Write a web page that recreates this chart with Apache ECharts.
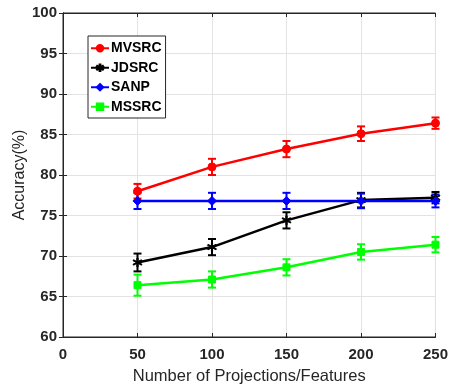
<!DOCTYPE html>
<html>
<head>
<meta charset="utf-8">
<script src="https://cdn.jsdelivr.net/npm/echarts@6/dist/echarts.min.js"></script>
<style>
html,body{margin:0;padding:0;background:#fff;}
#chart{width:451px;height:390px;}
</style>
</head>
<body>
<div id="chart"></div>
<script>
// Number of projections / features on the x axis
const features = [50, 100, 150, 200, 250];
const xTicks = [0, 50, 100, 150, 200, 250];
const yTicks = [60, 65, 70, 75, 80, 85, 90, 95, 100];

// Mean accuracy (%) per method
const mvsrcMean = [78.0, 81.0, 83.2, 85.1, 86.4];
const jdsrcMean = [69.2, 71.1, 74.4, 76.9, 77.2];
const sanpMean  = [76.8, 76.8, 76.8, 76.8, 76.8];
const mssrcMean = [66.4, 67.1, 68.6, 70.5, 71.4];

// Half-length of each error bar (%)
const mvsrcErr = [0.9, 1.0, 1.0, 0.9, 0.7];
const jdsrcErr = [1.1, 1.0, 1.0, 0.9, 0.7];
const sanpErr  = [1.0, 1.0, 1.0, 0.9, 0.8];
const mssrcErr = [1.3, 1.0, 1.0, 0.95, 0.95];

// Six-armed asterisk built from three filled bars
const asterisk = 'path://M-1.2,-10L1.2,-10L1.2,10L-1.2,10Z' +
  'M-9.26,-3.96L-8.06,-6.04L9.26,3.96L8.06,6.04Z' +
  'M-8.06,6.04L-9.26,3.96L8.06,-6.04L9.26,-3.96Z';

const methods = [
  { name: 'MVSRC', mean: mvsrcMean, err: mvsrcErr, color: '#ff0000', symbol: 'circle', size: 8 },
  { name: 'JDSRC', mean: jdsrcMean, err: jdsrcErr, color: '#000000', symbol: asterisk, size: 9 },
  { name: 'SANP', mean: sanpMean, err: sanpErr, color: '#0000ff', symbol: 'diamond', size: 9 },
  { name: 'MSSRC', mean: mssrcMean, err: mssrcErr, color: '#00ff00', symbol: 'rect', size: 7 }
];

const chart = echarts.init(document.getElementById('chart'), null, { renderer: 'canvas' });

const fontFamily = 'Liberation Sans, Arial, sans-serif';
const tickFont = { fontFamily: fontFamily, fontWeight: 'bold', fontSize: 15, color: '#262626' };
const axisLineStyle = { color: '#262626', width: 1 };

function errorBarSeries(m) {
  return {
    type: 'custom',
    name: m.name + ' std',
    silent: true,
    z: 3,
    data: features.map((x, i) => [x, m.mean[i] - m.err[i], m.mean[i] + m.err[i]]),
    renderItem: function (params, api) {
      const lo = api.coord([api.value(0), api.value(1)]);
      const hi = api.coord([api.value(0), api.value(2)]);
      const w = 4;
      const style = { stroke: m.color, lineWidth: 2, fill: null };
      return {
        type: 'group',
        children: [
          { type: 'line', shape: { x1: lo[0], y1: lo[1], x2: hi[0], y2: hi[1] }, style: style },
          { type: 'line', shape: { x1: lo[0] - w, y1: lo[1], x2: lo[0] + w, y2: lo[1] }, style: style },
          { type: 'line', shape: { x1: hi[0] - w, y1: hi[1], x2: hi[0] + w, y2: hi[1] }, style: style }
        ]
      };
    }
  };
}

function lineSeries(m) {
  return {
    type: 'line',
    name: m.name,
    data: features.map((x, i) => [x, m.mean[i]]),
    symbol: m.symbol,
    symbolSize: m.size,
    showAllSymbol: true,
    z: 4,
    color: m.color,
    lineStyle: { color: m.color, width: 2.5 },
    itemStyle: { color: m.color, borderColor: m.color, borderWidth: 1 },
    emphasis: { disabled: true }
  };
}

const series = [];
methods.forEach(m => { series.push(lineSeries(m)); });
methods.forEach(m => { series.push(errorBarSeries(m)); });

chart.setOption({
  animation: false,
  backgroundColor: '#ffffff',
  grid: { left: 63, right: 15, top: 13, bottom: 53, show: true, borderColor: '#262626', borderWidth: 1 },
  legend: {
    data: methods.map(m => m.name),
    orient: 'vertical',
    left: 88,
    top: 36,
    itemWidth: 18,
    itemHeight: 8,
    itemGap: 3,
    padding: [4, 4, 3, 2],
    borderColor: '#262626',
    borderWidth: 1,
    backgroundColor: '#ffffff',
    selectedMode: false,
    textStyle: { fontFamily: fontFamily, fontWeight: 'bold', fontSize: 14, lineHeight: 16.5, color: '#000', padding: [0, 0, 0, -3] }
  },
  xAxis: [{
    type: 'value',
    min: 0, max: 250, interval: 50,
    name: 'Number of Projections/Features',
    nameLocation: 'middle',
    nameGap: 31,
    nameMoveOverlap: false,
    nameTextStyle: { fontFamily: fontFamily, fontSize: 16.5, color: '#262626' },
    axisLine: { show: true, lineStyle: axisLineStyle },
    axisTick: { show: true, inside: true, length: 4, lineStyle: axisLineStyle },
    axisLabel: Object.assign({ margin: 10, formatter: v => xTicks.includes(v) ? String(v) : '' }, tickFont),
    splitLine: { show: true, lineStyle: { color: '#e3e3e3', width: 1 } }
  }, {
    type: 'value', position: 'top', min: 0, max: 250, interval: 50,
    axisLine: { show: true, lineStyle: axisLineStyle },
    axisTick: { show: true, inside: true, length: 4, lineStyle: axisLineStyle },
    axisLabel: { show: false }, splitLine: { show: false }
  }],
  yAxis: [{
    type: 'value',
    min: 60, max: 100, interval: 5,
    name: 'Accuracy(%)',
    nameLocation: 'middle',
    nameGap: 35,
    nameMoveOverlap: false,
    nameTextStyle: { fontFamily: fontFamily, fontSize: 16, color: '#262626' },
    axisLine: { show: true, lineStyle: axisLineStyle },
    axisTick: { show: true, inside: true, length: 4, lineStyle: axisLineStyle },
    axisLabel: Object.assign({ margin: 6, formatter: v => yTicks.includes(v) ? String(v) : '' }, tickFont),
    splitLine: { show: true, lineStyle: { color: '#e3e3e3', width: 1 } }
  }, {
    type: 'value', position: 'right', min: 60, max: 100, interval: 5,
    axisLine: { show: true, lineStyle: axisLineStyle },
    axisTick: { show: true, inside: true, length: 4, lineStyle: axisLineStyle },
    axisLabel: { show: false }, splitLine: { show: false }
  }],
  series: series
});
</script>
</body>
</html>
